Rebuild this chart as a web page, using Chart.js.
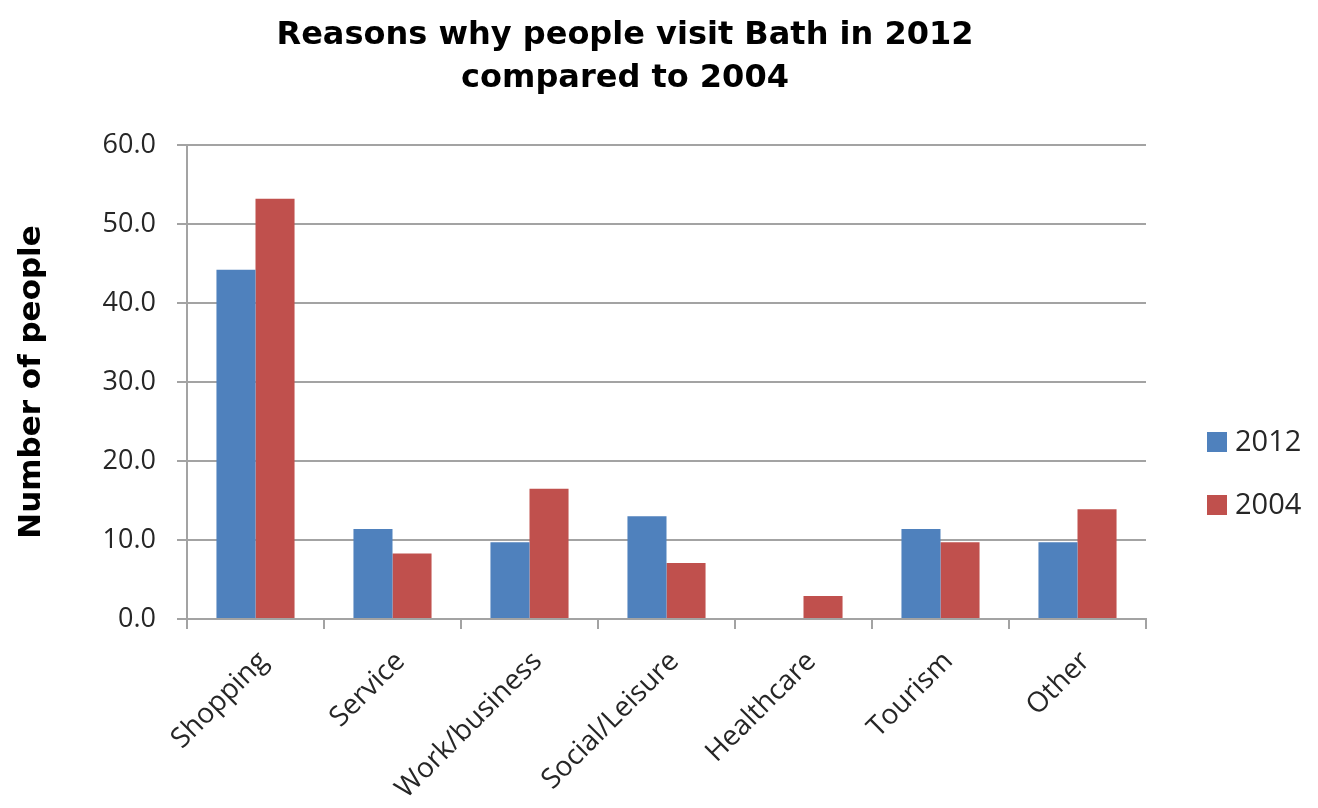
<!DOCTYPE html>
<html>
<head>
<meta charset="utf-8">
<title>Reasons why people visit Bath</title>
<script src="https://cdn.jsdelivr.net/npm/chart.js@4.4.1/dist/chart.umd.min.js"></script>
<style>
  html, body { margin: 0; padding: 0; background: #ffffff; }
  #wrap { width: 1318px; height: 808px; position: relative; }
</style>
</head>
<body>
<div id="wrap"><canvas id="barChart" width="1318" height="808"></canvas></div>
<script>
const categories = ["Shopping", "Service", "Work/business", "Social/Leisure", "Healthcare", "Tourism", "Other"];
const values2012 = [44.2, 11.4, 9.7, 13.0, 0, 11.4, 9.7];
const values2004 = [53.2, 8.3, 16.5, 7.1, 2.9, 9.7, 13.9];
const seriesLabels = ["2012", "2004"];
const seriesColors = ["#4f81bd", "#c0504d"];
const titleLines = ["Reasons why people visit Bath in 2012", "compared to 2004"];
const yTitle = "Number of people";

const gridColor = "#a3a3a3";
const textColor = "#262626";

// title + legend drawn by hand so they sit where the original puts them
const decorations = {
  id: "decorations",
  afterDraw(chart) {
    const ctx = chart.ctx;
    ctx.save();
    ctx.fillStyle = "#000";
    ctx.textAlign = "center";
    ctx.textBaseline = "middle";
    ctx.font = "bold 32px 'DejaVu Sans'";
    titleLines.forEach((line, i) => {
      ctx.fillText(line, 625, 36 + i * 43);
    });

    ctx.textAlign = "left";
    ctx.font = "29px 'Open Sans'";
    chart.data.datasets.forEach((ds, i) => {
      const y = 442 + i * 63;
      ctx.fillStyle = ds.backgroundColor;
      ctx.fillRect(1207, y - 10, 20, 20);
      ctx.fillStyle = textColor;
      ctx.fillText(ds.label, 1235, y + 1);
    });
    ctx.restore();
  },
};

const ctx = document.getElementById("barChart").getContext("2d");

new Chart(ctx, {
  type: "bar",
  data: {
    labels: categories,
    datasets: [
      {
        label: seriesLabels[0],
        data: values2012,
        backgroundColor: seriesColors[0],
        borderWidth: 0,
      },
      {
        label: seriesLabels[1],
        data: values2004,
        backgroundColor: seriesColors[1],
        borderWidth: 0,
      },
    ],
  },
  options: {
    responsive: false,
    animation: false,
    layout: {
      padding: { top: 145, right: 172, left: 0, bottom: 0 },
    },
    datasets: {
      bar: { categoryPercentage: 0.57, barPercentage: 1.0 },
    },
    plugins: {
      legend: { display: false },
      title: { display: false },
      tooltip: { enabled: false },
    },
    scales: {
      x: {
        afterFit(scale) {
          scale.height = 189;
        },
        grid: {
          display: true,
          drawOnChartArea: false,
          drawTicks: true,
          tickLength: 10,
          color: gridColor,
          lineWidth: 2,
        },
        border: { color: gridColor, width: 2 },
        ticks: {
          color: textColor,
          font: { family: "'Open Sans'", size: 28 },
          minRotation: 45,
          maxRotation: 45,
          autoSkip: false,
          padding: 16,
          labelOffset: 8,
        },
      },
      y: {
        min: 0,
        max: 60,
        afterFit(scale) {
          scale.width = 187;
        },
        grid: {
          color: gridColor,
          lineWidth: 2,
          tickLength: 10,
        },
        border: { color: gridColor, width: 2 },
        ticks: {
          stepSize: 10,
          color: textColor,
          font: { family: "'Open Sans'", size: 27 },
          padding: 21,
          callback: (v) => Number(v).toFixed(1),
        },
        title: {
          display: true,
          text: yTitle,
          color: "#000",
          font: { family: "'DejaVu Sans'", size: 31, weight: "bold" },
          padding: { top: 13, bottom: 0 },
        },
      },
    },
  },
  plugins: [decorations],
});
</script>
</body>
</html>
